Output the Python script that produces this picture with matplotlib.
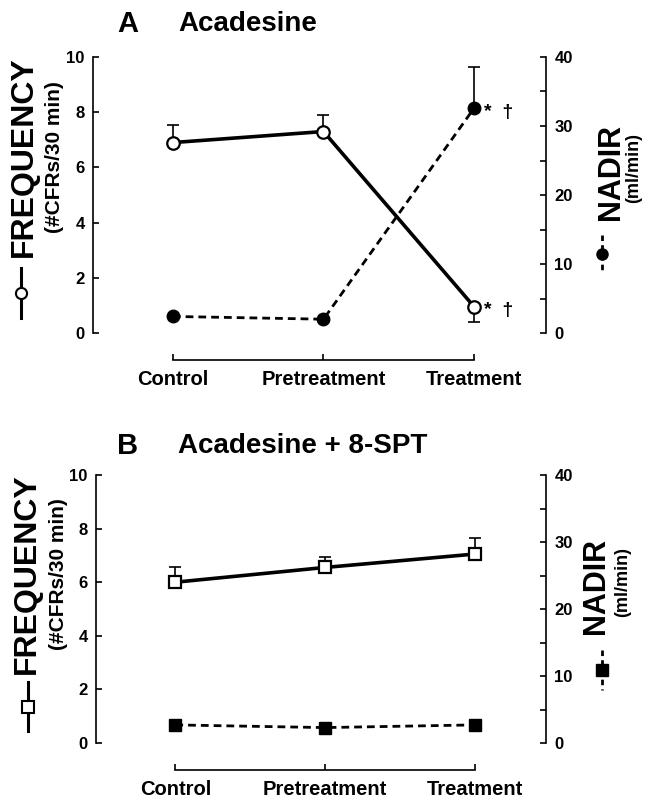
import numpy as np
import matplotlib
matplotlib.use("Agg")
import matplotlib.pyplot as plt
from matplotlib.lines import Line2D

plt.rcParams['font.family'] = ['Liberation Sans', 'DejaVu Sans']
plt.rcParams['font.weight'] = 'bold'

# data
categories = ["Control", "Pretreatment", "Treatment"]

freq_a = [6.9, 7.3, 0.95]
freq_a_err_lo = [0.0, 0.0, 0.55]
freq_a_err_hi = [0.65, 0.6, 0.0]
nadir_a = [2.4, 2.0, 32.6]
nadir_a_err_hi = [0.0, 0.0, 6.0]

freq_b = [6.0, 6.55, 7.05]
freq_b_err_hi = [0.55, 0.4, 0.6]
nadir_b = [2.7, 2.3, 2.7]

W, H = 645, 799
fig = plt.figure(figsize=(W / 100, H / 100), dpi=100)


def px(x, y):
    # pixel coords (from top-left) -> figure fraction
    return x / W, 1 - y / H


def panel(top, bottom, left, right, title_y, letter, title, freq, f_lo, f_hi,
          nadir, n_hi, marker, stars):
    ax = fig.add_axes([left / W, 1 - bottom / H, (right - left) / W, (bottom - top) / H])
    x = np.arange(len(categories))
    ax.errorbar(x, freq, yerr=[f_lo, f_hi], fmt='none', ecolor='black',
                elinewidth=1.2, capsize=4, capthick=1.2, zorder=2)
    ax.plot(x, freq, color='black', lw=2.6, marker=marker, ms=9,
            mfc='white', mec='black', mew=1.6, zorder=3)
    ax.set_ylim(0, 10)
    ax.set_xlim(-0.53, 2.477)
    ax.set_yticks([0, 2, 4, 6, 8, 10])
    ax.set_xticks(x)
    ax.set_xticklabels(categories)
    ax.spines['top'].set_visible(False)
    ax.spines['right'].set_visible(False)
    ax.spines['bottom'].set_position(('outward', 19.5))
    ax.spines['bottom'].set_bounds(0, 2)
    ax.spines['left'].set_bounds(0, 10)
    for s in ['left', 'bottom']:
        ax.spines[s].set_linewidth(1.2)
    ax.tick_params(axis='y', direction='in', length=4, width=1.2, labelsize=12, pad=6)
    ax.tick_params(axis='x', direction='in', length=4, width=1.2, labelsize=14.5, pad=7)

    ax2 = ax.twinx()
    ax2.errorbar(x, nadir, yerr=[[0] * len(nadir), n_hi], fmt='none', ecolor='black',
                 elinewidth=1.2, capsize=4, capthick=1.2, zorder=2)
    ax2.plot(x, nadir, color='black', lw=2, ls=(0, (2.8, 1.8)), marker=marker, ms=9,
             mfc='black', mec='black', zorder=3)
    ax2.set_ylim(0, 40)
    ax2.set_yticks([0, 10, 20, 30, 40])
    ax2.set_yticks([5, 15, 25, 35], minor=True)
    for s in ['top', 'left', 'bottom']:
        ax2.spines[s].set_visible(False)
    ax2.spines['right'].set_bounds(0, 40)
    ax2.spines['right'].set_linewidth(1.2)
    ax2.tick_params(axis='y', which='both', direction='in', length=4, width=1.2,
                    labelsize=12, pad=6)

    if stars:
        ax2.annotate("*  \u2020", (x[-1], nadir[-1]), xytext=(7, -3),
                     textcoords='offset points', fontsize=14, va='center')
        ax.annotate("*  \u2020", (x[-1], freq[-1]), xytext=(7, -3),
                    textcoords='offset points', fontsize=14, va='center')

    fig.text(*px(128, title_y), letter, fontsize=21, ha='center', va='center')
    fig.text(*px(178, title_y), title, fontsize=20, ha='left', va='center')
    return ax, ax2


def ylabels(cy, ry, lx, rx, rgap, marker, sym_left, sym_right):
    fig.text(*px(lx, cy), "FREQUENCY", fontsize=23, rotation=90,
             ha='center', va='center')
    fig.text(*px(lx + 31, cy), "(#CFRs/30 min)", fontsize=15, rotation=90,
             ha='center', va='center')
    fig.text(*px(rx, ry), "NADIR", fontsize=22, rotation=90,
             ha='center', va='center')
    fig.text(*px(rx + rgap, ry - 4), "(ml/min)", fontsize=13, rotation=90,
             ha='center', va='center')
    # line-style keys next to the axis titles
    sx, sy0, sy1 = sym_left
    fig.add_artist(Line2D([sx / W] * 2, [1 - sy0 / H, 1 - sy1 / H], color='black', lw=2.2))
    fig.add_artist(Line2D([sx / W], [1 - (sy0 + sy1) / 2 / H], marker=marker, ms=8,
                          mfc='white', mec='black', mew=1.5, color='black'))
    sx, sy0, sy1 = sym_right
    fig.add_artist(Line2D([sx / W] * 2, [1 - sy0 / H, 1 - sy1 / H], color='black', lw=2,
                          ls=(0, (2, 1.5))))
    fig.add_artist(Line2D([sx / W], [1 - (sy0 + sy1) / 2 / H], marker=marker, ms=8,
                          mfc='black', mec='black', color='black'))


panel(57, 333, 93, 546, 24, "A", "Acadesine", freq_a, freq_a_err_lo, freq_a_err_hi,
      nadir_a, nadir_a_err_hi, 'o', True)
ylabels(157, 172, 24, 611, 23, 'o', (21, 268, 318), (602, 235, 272))

panel(475, 743, 96, 546, 446, "B", "Acadesine + 8-SPT", freq_b, [0, 0, 0], freq_b_err_hi,
      nadir_b, [0, 0, 0], 's', False)
ylabels(574, 586, 27, 596, 27, 's', (28, 682, 731), (602, 650, 690))

fig.savefig("out.png", dpi=100)
